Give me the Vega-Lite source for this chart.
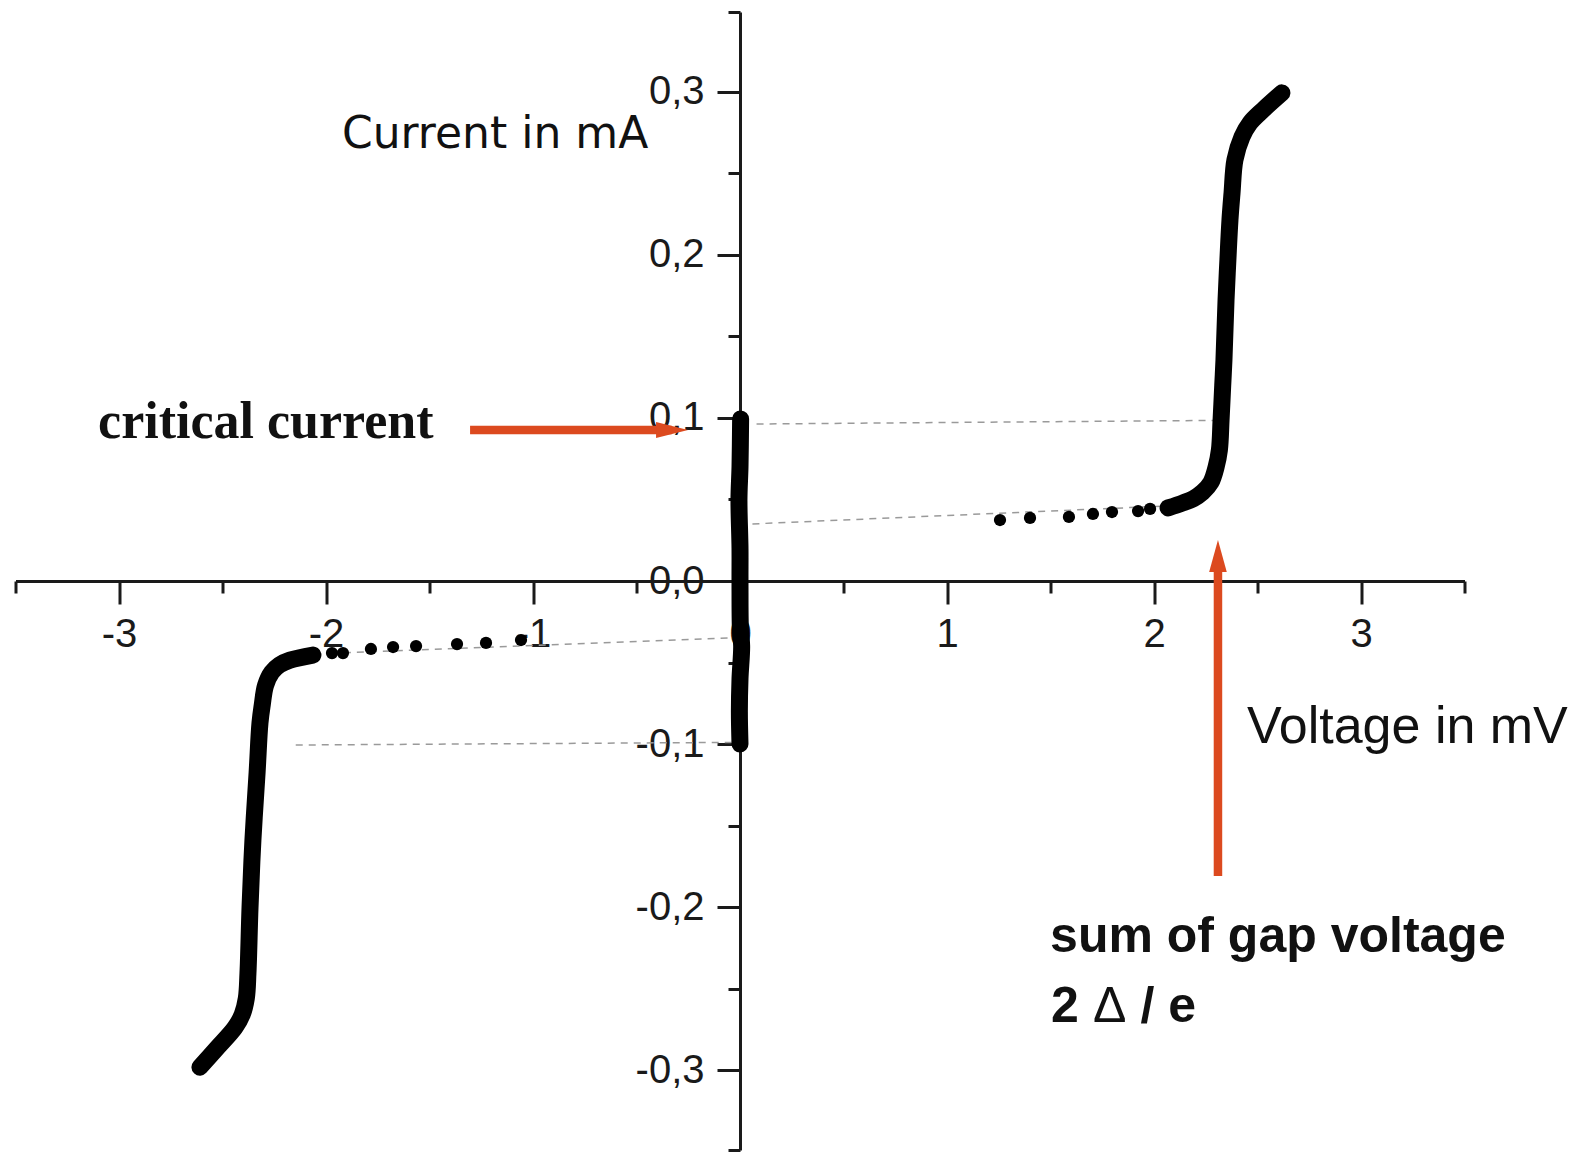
{
  "$schema": "https://vega.github.io/schema/vega-lite/v6.json",
  "width": 1449,
  "height": 1138,
  "autosize": {"type": "none"},
  "padding": {"left": 15.5, "top": 12, "right": 122.5, "bottom": 3},
  "background": "white",
  "config": {"view": {"stroke": null}},
  "layer": [
    {
      "data": {"values": [
        {"seg": "d1", "i": 0, "V": 0.08, "I": 0.0963},
        {"seg": "d1", "i": 1, "V": 2.29, "I": 0.0985},
        {"seg": "d2", "i": 0, "V": 0.06, "I": 0.035},
        {"seg": "d2", "i": 1, "V": 2.06, "I": 0.046},
        {"seg": "d3", "i": 0, "V": -0.06, "I": -0.035},
        {"seg": "d3", "i": 1, "V": -2.0, "I": -0.0445},
        {"seg": "d4", "i": 0, "V": -0.04, "I": -0.099},
        {"seg": "d4", "i": 1, "V": -2.16, "I": -0.1006}
      ]},
      "mark": {"type": "line", "stroke": "#9a9a9a", "strokeWidth": 1.5, "strokeDash": [7, 6]},
      "encoding": {
        "x": {
          "field": "V", "type": "quantitative",
          "scale": {"domain": [-3.5, 3.5], "nice": false, "zero": false},
          "axis": {
            "title": null, "orient": "bottom", "offset": -569, "grid": false,
            "values": [-3.5, -3, -2.5, -2, -1.5, -1, -0.5, 0, 0.5, 1, 1.5, 2, 2.5, 3, 3.5],
            "domainColor": "#1a1a1a", "domainWidth": 3,
            "tickColor": "#1a1a1a", "tickWidth": 3,
            "tickSize": {"condition": {"test": "datum.value == round(datum.value)", "value": 23}, "value": 12},
            "labelExpr": "datum.value == round(datum.value) ? '' + datum.value : ''",
            "labelFont": "Liberation Sans", "labelFontSize": 40, "labelColor": "#1a1a1a",
            "labelPadding": 10, "labelFlush": false, "labelOverlap": false, "labelBound": false
          }
        },
        "y": {
          "field": "I", "type": "quantitative",
          "scale": {"domain": [-0.349, 0.349], "nice": false, "zero": false},
          "axis": {
            "title": null, "orient": "left", "offset": -724.5, "grid": false,
            "values": [-0.349, -0.3, -0.25, -0.2, -0.15, -0.1, -0.05, 0, 0.05, 0.1, 0.15, 0.2, 0.25, 0.3, 0.349],
            "domainColor": "#1a1a1a", "domainWidth": 3,
            "tickColor": "#1a1a1a", "tickWidth": 3,
            "tickSize": {"condition": {"test": "abs(round(datum.value*20)) % 2 == 0", "value": 23}, "value": 12},
            "labelExpr": "abs(round(datum.value*20)) % 2 == 0 ? (datum.value < -0.001 ? '-' : '') + '0,' + abs(round(datum.value*10)) : ''",
            "labelFont": "Liberation Sans", "labelFontSize": 40, "labelColor": "#1a1a1a",
            "labelPadding": 13, "labelFlush": false, "labelOverlap": false, "labelBound": false
          }
        },
        "detail": {"field": "seg"},
        "order": {"field": "i"}
      }
    },
    {
      "data": {"values": [
        {"b": "pos", "i": 0, "V": 2.068, "I": 0.0448},
        {"b": "pos", "i": 1, "V": 2.140, "I": 0.0479},
        {"b": "pos", "i": 2, "V": 2.190, "I": 0.0505},
        {"b": "pos", "i": 3, "V": 2.235, "I": 0.0545},
        {"b": "pos", "i": 4, "V": 2.275, "I": 0.0605},
        {"b": "pos", "i": 5, "V": 2.300, "I": 0.0699},
        {"b": "pos", "i": 6, "V": 2.316, "I": 0.0804},
        {"b": "pos", "i": 7, "V": 2.324, "I": 0.0988},
        {"b": "pos", "i": 8, "V": 2.332, "I": 0.1200},
        {"b": "pos", "i": 9, "V": 2.338, "I": 0.1356},
        {"b": "pos", "i": 10, "V": 2.348, "I": 0.1724},
        {"b": "pos", "i": 11, "V": 2.357, "I": 0.197},
        {"b": "pos", "i": 12, "V": 2.367, "I": 0.2215},
        {"b": "pos", "i": 13, "V": 2.377, "I": 0.238},
        {"b": "pos", "i": 14, "V": 2.391, "I": 0.2583},
        {"b": "pos", "i": 15, "V": 2.425, "I": 0.2724},
        {"b": "pos", "i": 16, "V": 2.464, "I": 0.281},
        {"b": "pos", "i": 17, "V": 2.527, "I": 0.289},
        {"b": "pos", "i": 18, "V": 2.618, "I": 0.2994},
        {"b": "neg", "i": 0, "V": -2.063, "I": -0.0454},
        {"b": "neg", "i": 1, "V": -2.174, "I": -0.0485},
        {"b": "neg", "i": 2, "V": -2.225, "I": -0.0515},
        {"b": "neg", "i": 3, "V": -2.262, "I": -0.0560},
        {"b": "neg", "i": 4, "V": -2.292, "I": -0.0640},
        {"b": "neg", "i": 5, "V": -2.308, "I": -0.0760},
        {"b": "neg", "i": 6, "V": -2.319, "I": -0.0871},
        {"b": "neg", "i": 7, "V": -2.333, "I": -0.1178},
        {"b": "neg", "i": 8, "V": -2.353, "I": -0.1589},
        {"b": "neg", "i": 9, "V": -2.367, "I": -0.2},
        {"b": "neg", "i": 10, "V": -2.377, "I": -0.2405},
        {"b": "neg", "i": 11, "V": -2.385, "I": -0.2560},
        {"b": "neg", "i": 12, "V": -2.405, "I": -0.2660},
        {"b": "neg", "i": 13, "V": -2.440, "I": -0.2740},
        {"b": "neg", "i": 14, "V": -2.530, "I": -0.2870},
        {"b": "neg", "i": 15, "V": -2.609, "I": -0.2982},
        {"b": "mid", "i": 0, "V": 0.003, "I": 0.0994},
        {"b": "mid", "i": 1, "V": 0.0, "I": 0.07},
        {"b": "mid", "i": 2, "V": -0.005, "I": 0.05},
        {"b": "mid", "i": 3, "V": 0.0, "I": 0.02},
        {"b": "mid", "i": 4, "V": 0.0, "I": 0.0},
        {"b": "mid", "i": 5, "V": 0.002, "I": -0.03},
        {"b": "mid", "i": 6, "V": 0.008, "I": -0.04},
        {"b": "mid", "i": 7, "V": 0.0, "I": -0.06},
        {"b": "mid", "i": 8, "V": -0.003, "I": -0.08},
        {"b": "mid", "i": 9, "V": 0.0, "I": -0.1}
      ]},
      "mark": {"type": "line", "interpolate": "catmull-rom", "stroke": "#000000", "strokeWidth": 17, "strokeCap": "round", "strokeJoin": "round"},
      "encoding": {
        "x": {"field": "V", "type": "quantitative"},
        "y": {"field": "I", "type": "quantitative"},
        "detail": {"field": "b"},
        "order": {"field": "i"}
      }
    },
    {
      "data": {"values": [
        {"V": 1.256, "I": 0.0374},
        {"V": 1.401, "I": 0.0387},
        {"V": 1.589, "I": 0.0393},
        {"V": 1.705, "I": 0.0411},
        {"V": 1.797, "I": 0.0423},
        {"V": 1.923, "I": 0.0429},
        {"V": 1.981, "I": 0.0442},
        {"V": -1.971, "I": -0.0442},
        {"V": -1.918, "I": -0.0442},
        {"V": -1.783, "I": -0.0417},
        {"V": -1.676, "I": -0.0405},
        {"V": -1.565, "I": -0.0399},
        {"V": -1.367, "I": -0.0387},
        {"V": -1.227, "I": -0.038},
        {"V": -1.058, "I": -0.0362}
      ]},
      "mark": {"type": "circle", "color": "#000000", "size": 150, "opacity": 1},
      "encoding": {
        "x": {"field": "V", "type": "quantitative"},
        "y": {"field": "I", "type": "quantitative"}
      }
    },
    {
      "data": {"values": [
        {"a": "h", "i": 0, "V": -1.304, "I": 0.0926},
        {"a": "h", "i": 1, "V": -0.33, "I": 0.0926},
        {"a": "v", "i": 0, "V": 2.309, "I": -0.181},
        {"a": "v", "i": 1, "V": 2.309, "I": 0.006}
      ]},
      "mark": {"type": "line", "stroke": "#dc4a1f", "strokeWidth": 8.5, "strokeCap": "butt"},
      "encoding": {
        "x": {"field": "V", "type": "quantitative"},
        "y": {"field": "I", "type": "quantitative"},
        "detail": {"field": "a"},
        "order": {"field": "i"}
      }
    },
    {
      "data": {"values": [{"V": -0.251, "I": 0.0926}]},
      "mark": {"type": "point", "shape": "M0,0L-2,-0.5L-2,0.5Z", "size": 1024, "filled": true, "fill": "#dc4a1f", "strokeWidth": 0, "opacity": 1},
      "encoding": {
        "x": {"field": "V", "type": "quantitative"},
        "y": {"field": "I", "type": "quantitative"}
      }
    },
    {
      "data": {"values": [{"V": 2.309, "I": 0.0252}]},
      "mark": {"type": "point", "shape": "M0,0L-0.55,2L0.55,2Z", "size": 1024, "filled": true, "fill": "#dc4a1f", "strokeWidth": 0, "opacity": 1},
      "encoding": {
        "x": {"field": "V", "type": "quantitative"},
        "y": {"field": "I", "type": "quantitative"}
      }
    },
    {
      "data": {"values": [{"V": -1.923, "I": 0.2656, "t": "Current in mA"}]},
      "mark": {"type": "text", "font": "DejaVu Sans", "fontSize": 44, "color": "#111111", "align": "left", "baseline": "alphabetic"},
      "encoding": {
        "x": {"field": "V", "type": "quantitative"},
        "y": {"field": "I", "type": "quantitative"},
        "text": {"field": "t"}
      }
    },
    {
      "data": {"values": [{"V": 2.449, "I": -0.0994, "t": "Voltage in mV"}]},
      "mark": {"type": "text", "font": "Liberation Sans", "fontSize": 52, "color": "#111111", "align": "left", "baseline": "alphabetic"},
      "encoding": {
        "x": {"field": "V", "type": "quantitative"},
        "y": {"field": "I", "type": "quantitative"},
        "text": {"field": "t"}
      }
    },
    {
      "data": {"values": [{"V": -3.101, "I": 0.0877, "t": "critical current"}]},
      "mark": {"type": "text", "font": "Liberation Serif", "fontWeight": "bold", "fontSize": 52, "color": "#111111", "align": "left", "baseline": "alphabetic"},
      "encoding": {
        "x": {"field": "V", "type": "quantitative"},
        "y": {"field": "I", "type": "quantitative"},
        "text": {"field": "t"}
      }
    },
    {
      "data": {"values": [
        {"V": 1.498, "I": -0.2276, "t": "sum of gap voltage"},
        {"V": 1.502, "I": -0.2706, "t": "2"},
        {"V": 1.935, "I": -0.2706, "t": "/ e"}
      ]},
      "mark": {"type": "text", "font": "Liberation Sans", "fontWeight": "bold", "fontSize": 50, "color": "#111111", "align": "left", "baseline": "alphabetic"},
      "encoding": {
        "x": {"field": "V", "type": "quantitative"},
        "y": {"field": "I", "type": "quantitative"},
        "text": {"field": "t"}
      }
    },
    {
      "data": {"values": [{"V": 1.705, "I": -0.2706, "t": "Δ"}]},
      "mark": {"type": "text", "font": "Liberation Sans", "fontSize": 50, "color": "#111111", "align": "left", "baseline": "alphabetic"},
      "encoding": {
        "x": {"field": "V", "type": "quantitative"},
        "y": {"field": "I", "type": "quantitative"},
        "text": {"field": "t"}
      }
    }
  ]
}
